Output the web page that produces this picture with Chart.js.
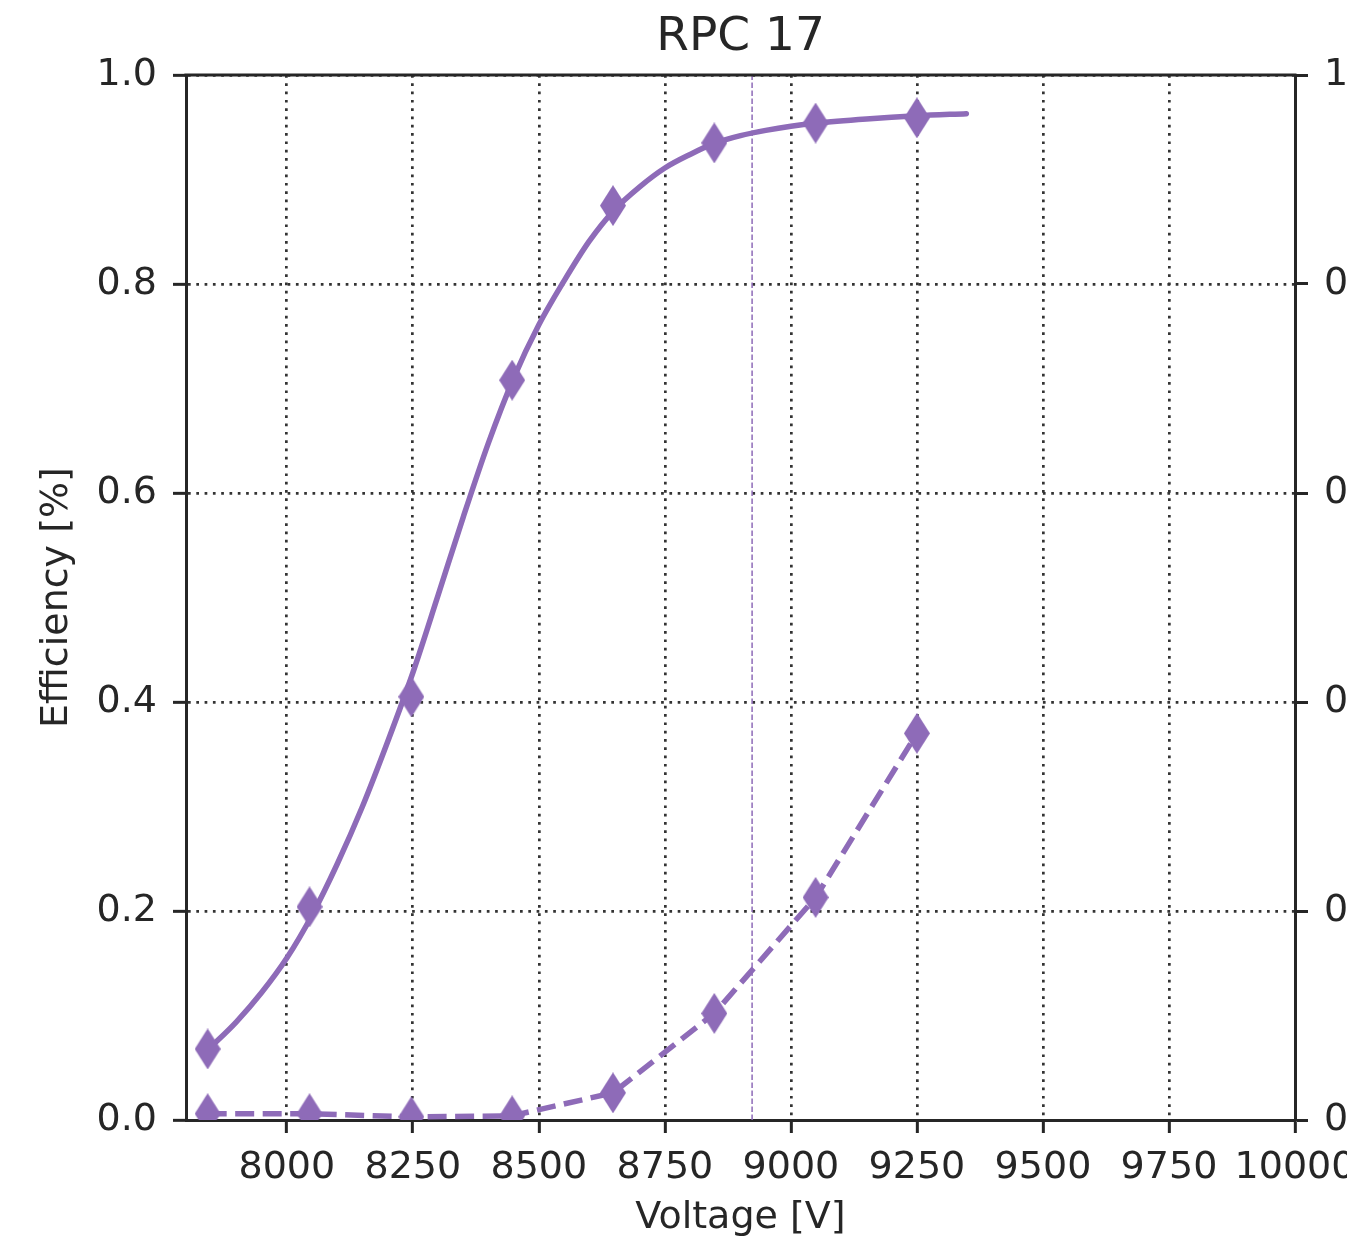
<!DOCTYPE html>
<html>
<head>
<meta charset="utf-8">
<script src="https://cdn.jsdelivr.net/npm/chart.js@4.4.1/dist/chart.umd.min.js"></script>
<style>
  html, body { margin: 0; padding: 0; background: #ffffff; }
  #wrap { width: 1347px; height: 1244px; }
</style>
</head>
<body>
<div id="wrap"><canvas id="chart" width="1347" height="1244"></canvas></div>
<script>
// ---- data ----
const chartTitle = 'RPC 17';
const xTitle = 'Voltage [V]';
const yTitle = 'Efficiency [%]';

const voltages = [7843, 8045, 8247, 8447, 8647, 8848, 9049, 9250];
const efficiency = [0.068, 0.204, 0.405, 0.708, 0.875, 0.935, 0.954, 0.959];
const secondSeries = [0.006, 0.006, 0.003, 0.004, 0.026, 0.102, 0.213, 0.370];

const fitVoltage = [7843, 7900, 7950, 8000, 8050, 8100, 8150, 8200, 8250, 8300, 8350, 8400, 8450, 8500, 8550, 8600, 8650, 8700, 8750, 8800, 8850, 8900, 8950, 9000, 9050, 9150, 9250, 9348];
const fitEfficiency = [0.067, 0.094, 0.122, 0.155, 0.196, 0.245, 0.300, 0.362, 0.428, 0.502, 0.577, 0.648, 0.710, 0.761, 0.803, 0.841, 0.871, 0.893, 0.911, 0.924, 0.935, 0.942, 0.947, 0.951, 0.954, 0.958, 0.961, 0.963];

const markerVoltage = 8923;

const xMin = 7800, xMax = 10000;
const xTicks = [8000, 8250, 8500, 8750, 9000, 9250, 9500, 9750, 10000];
const yMin = 0, yMax = 1;
const yTicks = [0.0, 0.2, 0.4, 0.6, 0.8, 1.0];

// ---- styles ----
const purple = '#8e6bb8';
const ink = '#262626';
const gridInk = '#333333';
const fontFamily = '"DejaVu Sans", "Liberation Sans", sans-serif';

function diamondImage(w, h, color) {
  const c = document.createElement('canvas');
  c.width = w; c.height = h;
  const g = c.getContext('2d');
  g.fillStyle = color;
  g.beginPath();
  g.moveTo(w / 2, 0);
  g.lineTo(w, h / 2);
  g.lineTo(w / 2, h);
  g.lineTo(0, h / 2);
  g.closePath();
  g.fill();
  return c;
}
const diamond = diamondImage(26, 41, purple);

const toXY = (xs, ys) => xs.map((x, i) => ({x: x, y: ys[i]}));
const fixedTicks = (values) => (scale) => { scale.ticks = values.map(v => ({value: v})); };

const topSpine = {
  id: 'topSpine',
  afterDraw(chart) {
    const a = chart.chartArea, ctx = chart.ctx;
    ctx.save();
    ctx.strokeStyle = ink;
    ctx.lineWidth = 3;
    ctx.beginPath();
    ctx.moveTo(a.left - 1.5, a.top);
    ctx.lineTo(a.right + 1.5, a.top);
    ctx.stroke();
    ctx.restore();
  }
};

const gridCommon = {
  display: true,
  drawOnChartArea: true,
  drawTicks: true,
  color: gridInk,
  lineWidth: 2.7,
  tickColor: ink,
  tickWidth: 3,
  tickLength: 13,
  tickBorderDash: []
};
const borderCommon = { display: true, color: ink, width: 3, dash: [2.7, 5.6] };

const ctx = document.getElementById('chart').getContext('2d');
new Chart(ctx, {
  type: 'scatter',
  data: {
    datasets: [
      {
        label: 'fit',
        data: toXY(fitVoltage, fitEfficiency),
        showLine: true,
        borderColor: purple,
        borderWidth: 5.5,
        borderCapStyle: 'round',
        cubicInterpolationMode: 'monotone',
        pointRadius: 0,
        clip: 0,
        order: 3
      },
      {
        label: 'marker line',
        data: [{x: markerVoltage, y: yMin}, {x: markerVoltage, y: yMax}],
        showLine: true,
        borderColor: purple,
        borderWidth: 1.5,
        borderDash: [5.5, 2.5],
        pointRadius: 0,
        clip: 0,
        order: 4
      },
      {
        label: 'second',
        data: toXY(voltages, secondSeries),
        showLine: true,
        borderColor: purple,
        backgroundColor: purple,
        borderWidth: 5.5,
        borderDash: [19, 8.5],
        tension: 0,
        pointStyle: diamond,
        pointRadius: 13,
        pointHoverRadius: 13,
        clip: 0,
        order: 2
      },
      {
        label: 'efficiency',
        data: toXY(voltages, efficiency),
        showLine: false,
        borderColor: purple,
        backgroundColor: purple,
        pointStyle: diamond,
        pointRadius: 13,
        pointHoverRadius: 13,
        clip: 0,
        order: 1
      }
    ]
  },
  options: {
    responsive: false,
    animation: false,
    devicePixelRatio: 1,
    events: [],
    layout: { padding: 0 },
    plugins: {
      legend: { display: false },
      tooltip: { enabled: false },
      title: {
        display: true,
        fullSize: false,
        text: chartTitle,
        color: ink,
        font: { family: fontFamily, size: 47, weight: 'normal', lineHeight: 1.2 },
        padding: { top: 10, bottom: 8.6 }
      }
    },
    scales: {
      x: {
        type: 'linear',
        position: 'bottom',
        min: xMin,
        max: xMax,
        afterBuildTicks: fixedTicks(xTicks),
        afterFit(scale) { scale.height = 124; scale.paddingLeft = 0; scale.paddingRight = 0; },
        ticks: {
          autoSkip: false,
          maxRotation: 0,
          minRotation: 0,
          padding: 12,
          color: ink,
          font: { family: fontFamily, size: 38 },
          callback: (v) => String(v)
        },
        grid: gridCommon,
        border: borderCommon,
        title: {
          display: true,
          text: xTitle,
          color: ink,
          font: { family: fontFamily, size: 38, lineHeight: 1.2 },
          padding: { top: 0, bottom: 3 }
        }
      },
      y: {
        type: 'linear',
        position: 'left',
        min: yMin,
        max: yMax,
        afterBuildTicks: fixedTicks(yTicks),
        afterFit(scale) { scale.width = 186; scale.paddingTop = 0; scale.paddingBottom = 0; },
        ticks: {
          autoSkip: false,
          padding: 16,
          color: ink,
          font: { family: fontFamily, size: 38 },
          callback: (v) => Number(v).toFixed(1)
        },
        grid: gridCommon,
        border: borderCommon,
        title: {
          display: true,
          text: yTitle,
          color: ink,
          font: { family: fontFamily, size: 38, lineHeight: 1.2 },
          padding: { top: 34, bottom: 0 }
        }
      },
      y2: {
        type: 'linear',
        position: 'right',
        min: yMin,
        max: yMax,
        afterBuildTicks: fixedTicks(yTicks),
        afterFit(scale) { scale.width = 52; scale.paddingTop = 0; scale.paddingBottom = 0; },
        ticks: {
          autoSkip: false,
          padding: 16,
          color: ink,
          font: { family: fontFamily, size: 38 },
          callback: (v) => Number(v).toFixed(1)
        },
        grid: {
          display: true,
          drawOnChartArea: false,
          drawTicks: true,
          tickColor: ink,
          tickWidth: 3,
          tickLength: 13,
          tickBorderDash: []
        },
        border: { display: true, color: ink, width: 3 }
      }
    }
  },
  plugins: [topSpine]
});
</script>
</body>
</html>
